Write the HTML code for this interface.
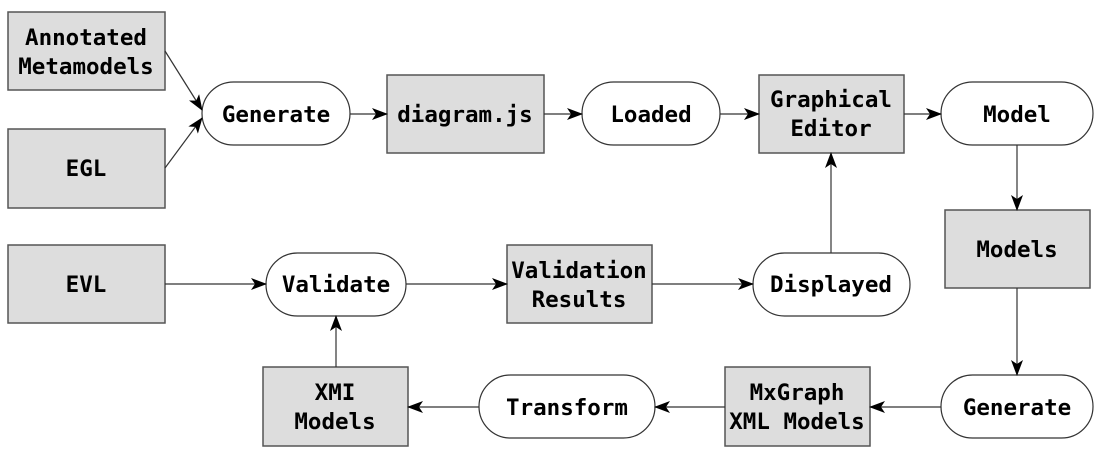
<!DOCTYPE html>
<html><head><style>
html,body{margin:0;padding:0;background:#fff;}
svg{display:block;}
text{font-family:"DejaVu Sans Mono","Liberation Mono",monospace;font-weight:bold;font-size:22.5px;fill:#000;text-anchor:middle;dominant-baseline:central;}
.b{fill:#dddddd;stroke:#555;stroke-width:1.5;}
.e{fill:#fff;stroke:#333;stroke-width:1.2;}
.l{stroke:#333;stroke-width:1.2;fill:none;marker-end:url(#a);}
</style></head><body>
<svg width="1101" height="454" viewBox="0 0 1101 454" xmlns="http://www.w3.org/2000/svg">
<defs><marker id="a" markerWidth="16" markerHeight="12" refX="15" refY="6" orient="auto" markerUnits="userSpaceOnUse"><path d="M0,0 L16,6 L0,12 L4,6 Z" fill="#000"/></marker></defs>
<g transform="translate(0,2)">
<rect class="b" x="8" y="10" width="157" height="78"/>
<text x="86" y="36">Annotated</text><text x="86" y="65">Metamodels</text>
<rect class="b" x="8" y="127" width="157" height="79"/>
<text x="86" y="167">EGL</text>
<rect class="b" x="8" y="243" width="157" height="78"/>
<text x="86" y="283">EVL</text>
<rect class="b" x="387" y="73" width="157" height="78"/>
<text x="465" y="113">diagram.js</text>
<rect class="b" x="759" y="73" width="145" height="78"/>
<text x="831" y="98">Graphical</text><text x="831" y="127">Editor</text>
<rect class="b" x="945" y="208" width="145" height="78"/>
<text x="1017" y="248">Models</text>
<rect class="b" x="507" y="243" width="145" height="78"/>
<text x="579" y="269">Validation</text><text x="579" y="298">Results</text>
<rect class="b" x="725" y="365" width="145" height="79"/>
<text x="797" y="391">MxGraph</text><text x="797" y="420">XML Models</text>
<rect class="b" x="263" y="365" width="145" height="79"/>
<text x="335" y="391">XMI</text><text x="335" y="420">Models</text>
<rect class="e" x="202" y="80" width="148" height="63" rx="31.5"/>
<text x="276" y="113">Generate</text>
<rect class="e" x="582" y="80" width="138" height="63" rx="31.5"/>
<text x="651" y="113">Loaded</text>
<rect class="e" x="941" y="80" width="152" height="63" rx="31.5"/>
<text x="1017" y="113">Model</text>
<rect class="e" x="266" y="251" width="140" height="63" rx="31.5"/>
<text x="336" y="283">Validate</text>
<rect class="e" x="753" y="251" width="157" height="63" rx="31.5"/>
<text x="831" y="283">Displayed</text>
<rect class="e" x="941" y="373" width="152" height="63" rx="31.5"/>
<text x="1017" y="406">Generate</text>
<rect class="e" x="479" y="373" width="176" height="63" rx="31.5"/>
<text x="567" y="406">Transform</text>
<path class="l" d="M165,49 L202,108"/>
<path class="l" d="M165,166 L202,116"/>
<path class="l" d="M350,112 L387,112"/>
<path class="l" d="M544,112 L582,112"/>
<path class="l" d="M720,112 L759,112"/>
<path class="l" d="M904,112 L941,112"/>
<path class="l" d="M1017,143 L1017,208"/>
<path class="l" d="M1017,286 L1017,373"/>
<path class="l" d="M941,405 L870,405"/>
<path class="l" d="M725,405 L655,405"/>
<path class="l" d="M479,405 L408,405"/>
<path class="l" d="M336,365 L336,314"/>
<path class="l" d="M165,282 L266,282"/>
<path class="l" d="M406,282 L507,282"/>
<path class="l" d="M652,282 L753,282"/>
<path class="l" d="M831,251 L831,151"/>
</g>
</svg>
</body></html>
